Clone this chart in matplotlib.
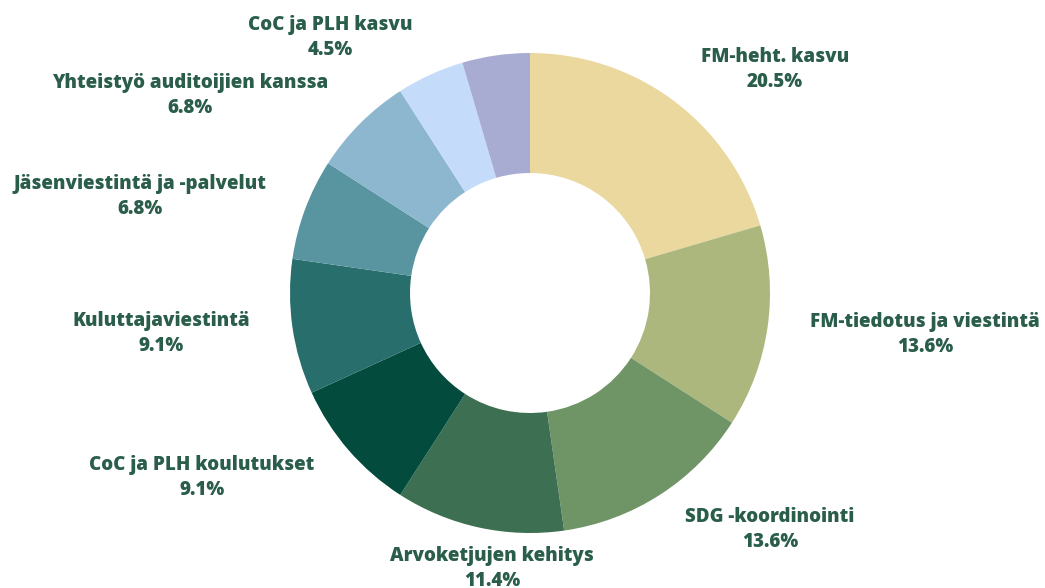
import matplotlib.pyplot as plt

labels = ["FM-heht. kasvu", "FM-tiedotus ja viestintä", "SDG -koordinointi",
          "Arvoketjujen kehitys", "CoC ja PLH koulutukset", "Kuluttajaviestintä",
          "Jäsenviestintä ja -palvelut", "Yhteistyö auditoijien kanssa",
          "CoC ja PLH kasvu", ""]
values = [9, 6, 6, 5, 4, 4, 3, 3, 2, 2]
colors = ["#ebd89e", "#abb77c", "#6f9466", "#3d7052", "#024b3d",
          "#286e6c", "#5895a0", "#8cb7cf", "#c4dcfa", "#a9acd2"]

# label centres in pixels (x, y of first line)
label_pos = [(775, 57), (925, 322), (770, 517), (492, 556), (202, 465),
             (161, 321), (140, 184), (190, 83), (330, 25), None]

text_color = "#2a5e4a"

fig = plt.figure(figsize=(10.45, 5.88), dpi=100)
ax = fig.add_axes([0, 0, 1, 1])

# y axis is inverted below, so start at -90 and go counterclockwise in data
# space to get a clockwise donut starting at the top
ax.pie(values, colors=colors, startangle=-90, counterclock=True,
       center=(530, 293), radius=240, frame=True,
       wedgeprops=dict(width=120, linewidth=0))
ax.set_xlim(0, 1045)
ax.set_ylim(588, 0)
ax.set_aspect("equal")
ax.axis("off")

total = sum(values)
for name, v, pos in zip(labels, values, label_pos):
    if pos is None:
        continue
    pct = f"{v / total * 100:.1f}%"
    x, y = pos
    ax.text(x, y, name, ha="center", va="center", fontsize=13.5,
            fontweight=800, family="Open Sans", color=text_color)
    ax.text(x, y + 25, pct, ha="center", va="center", fontsize=13.5,
            fontweight=800, family="Open Sans", color=text_color)

fig.savefig("out.png", dpi=100)
